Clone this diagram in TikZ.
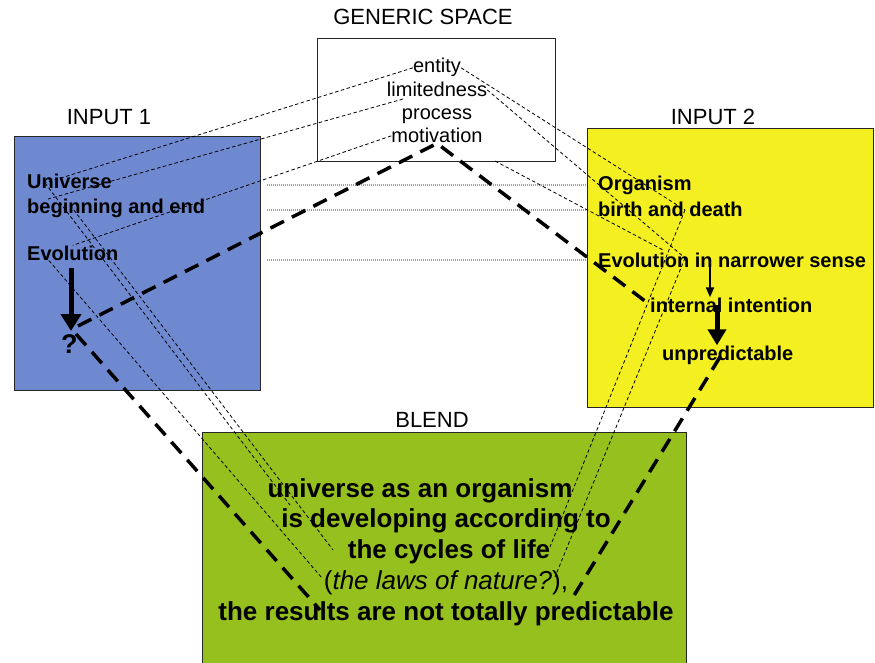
\documentclass[tikz,border=0pt]{standalone}
\usepackage{fontspec}
\setmainfont{Liberation Sans}
\usetikzlibrary{arrows.meta}
\definecolor{inblue}{RGB}{111,137,208}
\definecolor{inyellow}{RGB}{243,239,32}
\definecolor{blendgreen}{RGB}{150,192,30}

\begin{document}
\begin{tikzpicture}[x=1pt, y=-1pt,
    space/.style={draw=black!85, line width=1pt, inner sep=0pt},
    title/.style={font=\fontsize{22}{26}\selectfont, anchor=base, inner sep=0pt},
    item/.style={font=\fontsize{20}{24}\selectfont\bfseries, anchor=base west, inner sep=0pt},
    frame/.style={font=\fontsize{20}{24}\selectfont, anchor=base, inner sep=0pt},
    blendline/.style={font=\fontsize{26}{30}\selectfont\bfseries, anchor=base, inner sep=0pt},
    map/.style={black, line width=0.8pt, dash pattern=on 3.5pt off 2.5pt},
    cross/.style={black, line width=3.5pt, dash pattern=on 15pt off 9pt},
    link/.style={gray!75, line width=1.2pt, dash pattern=on 1pt off 1pt},
    evolve/.style={line width=5pt, -{Triangle[width=20pt,length=17pt]}}]
    \clip (0,0) rectangle (875,663);

    % the four spaces
    \node[space, fill=white, minimum width=238pt, minimum height=123pt] (gen) at (436,100.5) {};
    \node[space, fill=inblue, minimum width=246pt, minimum height=253pt] (in1) at (137,263.5) {};
    \node[space, fill=inyellow, minimum width=286pt, minimum height=278pt] (in2) at (730,268) {};
    \node[space, fill=blendgreen, minimum width=484pt, minimum height=250pt] (blend) at (444,557) {};

    \node[title] (genlbl) at (423,25) {GENERIC SPACE};
    \node[title] (in1lbl) at (109,125) {INPUT 1};
    \node[title] (in2lbl) at (713,125) {INPUT 2};
    \node[title] (blendlbl) at (432,427) {BLEND};

    % generic space
    \node[frame] (entity) at (437,73) {entity};
    \node[frame] (limit) at (437,97) {limitedness};
    \node[frame] (process) at (437,120) {process};
    \node[frame] (motiv) at (437,143) {motivation};

    % input 1
    \node[item] (uni) at (27,189) {Universe};
    \node[item] (begend) at (27,213) {beginning and end};
    \node[item] (evo) at (27,260) {Evolution};
    \node[item, font=\fontsize{27}{30}\selectfont\bfseries] (qmark) at (61,353) {?};

    % input 2
    \node[item] (org) at (598,190) {Organism};
    \node[item] (birth) at (598,217) {birth and death};
    \node[item] (evonar) at (598,267) {Evolution in narrower sense};
    \node[item] (intent) at (650,312) {internal intention};
    \node[item] (unpred) at (662,360) {unpredictable};

    % blend
    \node[blendline] (blendA) at (420,497) {universe as an organism};
    \node[blendline] (blendB) at (446,527) {is developing according to};
    \node[blendline] (blendC) at (449,558) {the cycles of life};
    \node[blendline] (blendD) at (446,589) {\mdseries(\textit{the laws of nature?}),};
    \node[blendline] (blendE) at (446,620) {the results are not totally predictable};

    % points where the mappings meet the texts
    \coordinate (uniJ) at (45,183);
    \coordinate (begJ) at (48,199);
    \coordinate (begJ2) at (70,205);
    \coordinate (evoJ) at (45,256);
    \coordinate (limitJ) at (403,99);
    \coordinate (motivJ) at (495,161);
    \coordinate (evonarL) at (663,250);
    \coordinate (birthJ) at (685,210);
    \coordinate (evonarJ) at (685,258);
    \coordinate (isJ) at (290,505);
    \coordinate (cyclesJ) at (333,550);
    \coordinate (lawsJ) at (322,578);
    \coordinate (lifeJ) at (550,547);
    \coordinate (natureJ) at (555,577);
    \coordinate (qJ) at (78,326);
    \coordinate (qJ2) at (76,334);
    \coordinate (resultsJ) at (320,610);
    \coordinate (unpredJ) at (720,357);
    \coordinate (predJ) at (570,602);

    % cross-space links
    \foreach \y in {185,210,260}
        \draw[link] (267,\y) -- (in2.west |- 0,\y);

    % generic space to the inputs
    \draw[map] (entity.west) -- (uniJ);
    \draw[map] (limitJ) -- (begJ);
    \draw[map] (motiv.west) -- (evo.north);
    \draw[map] (entity.east) -- (birthJ);
    \draw[map] (limit.east) -- (evonarJ);
    \draw[map] (motivJ) -- (evonarL);

    % inputs to the blend
    \draw[map] (uniJ) -- (isJ);
    \draw[map] (begJ2) -- (cyclesJ);
    \draw[map] (evoJ) -- (lawsJ);
    \draw[map] (birthJ) -- (lifeJ);
    \draw[map] (evonarJ) -- (natureJ);

    \draw[cross] (qJ) -- (motiv.south) -- (intent.west);
    \draw[cross] (qJ2) -- (resultsJ);
    \draw[cross] (unpredJ) -- (predJ);

    % arrows
    \draw[evolve, shorten <=8pt] (evo.south -| 71,0) -- (71,331);
    \draw[line width=2pt, -{Triangle[width=8pt,length=10pt]}] (evonar.south -| 710,0) -- (intent.north -| 710,0);
    \draw[line width=5pt, -{Triangle[width=18pt,length=16pt]}] (intent.center -| 717,0) -- (unpred.north -| 717,0);
\end{tikzpicture}
\end{document}
